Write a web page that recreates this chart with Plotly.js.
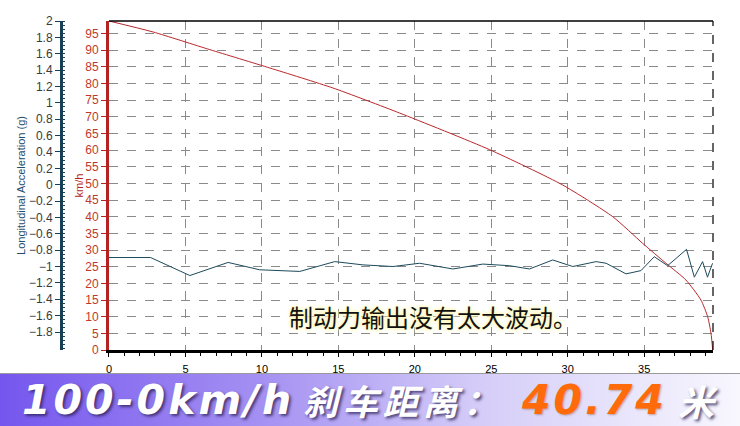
<!DOCTYPE html>
<html>
<head>
<meta charset="utf-8">
<script src="https://cdn.plot.ly/plotly-3.0.1.min.js"></script>
<style>
html,body{margin:0;padding:0;background:#fff;}
#wrap{position:relative;width:740px;height:426px;overflow:hidden;}
#banner{position:absolute;left:0;top:373px;width:740px;height:53px;
  background:linear-gradient(to right,#7556ee 0%,#a490f2 35%,#d5cdf8 65%,#f8f7fe 100%);
  border-top:1px solid #9a9a9a;}
#chart{position:absolute;left:0;top:0;width:740px;height:426px;z-index:1;}
</style>
</head>
<body>
<div id="wrap"><div id="banner"></div><div id="chart"></div></div>
<script>
// distance (m) vs speed (km/h)
const speedDist = [0, 2.89, 6.60, 10.52, 14.65, 19.0, 24.89, 29.67, 32.94, 34.9, 36.43, 37.73, 38.71, 39.15, 39.37, 39.48];
const speedVals = [98.7, 95.4, 90.1, 84.6, 78.6, 71.1, 60.1, 49.5, 40.0, 32.0, 26.0, 21.0, 15.0, 10.0, 5.0, 0];
// distance (m) vs longitudinal acceleration (g)
const accDist = [0, 2.72, 5.29, 7.79, 9.86, 12.48, 14.76, 16.61, 18.57, 20.31, 22.49, 24.45, 26.19, 27.5, 29.02, 30.33, 31.86, 32.51, 33.81, 34.79, 35.66, 36.53, 37.77, 38.28, 38.82, 39.14, 39.47];
const accVals = [-0.89, -0.89, -1.11, -0.95, -1.04, -1.06, -0.94, -0.98, -1.00, -0.96, -1.03, -0.97, -0.99, -1.03, -0.92, -1.00, -0.94, -0.96, -1.09, -1.05, -0.88, -0.99, -0.79, -1.13, -0.94, -1.13, -0.96];
// tick labels
const accTicks = [2, 1.8, 1.6, 1.4, 1.2, 1, 0.8, 0.6, 0.4, 0.2, 0, -0.2, -0.4, -0.6, -0.8, -1, -1.2, -1.4, -1.6, -1.8];
const speedTicks = [0, 5, 10, 15, 20, 25, 30, 35, 40, 45, 50, 55, 60, 65, 70, 75, 80, 85, 90, 95];
const distTicks = [0, 5, 10, 15, 20, 25, 30, 35];
const noteText = '制动力输出没有太大波动。';
const bannerParts = ['100-0km/h', '刹车距离：', '40.74', '米'];

const red = '#b42222';
const teal = '#173f55';

const traces = [
  {x: accDist, y: accVals, yaxis: 'y2', type: 'scatter', mode: 'lines',
   line: {color: '#1d4a5c', width: 1}, hoverinfo: 'skip'},
  {x: speedDist, y: speedVals, yaxis: 'y', type: 'scatter', mode: 'lines',
   line: {color: '#b8282c', width: 1, shape: 'spline', smoothing: 0.6}, hoverinfo: 'skip'}
];

const bannerY = -0.1505;
const shadow = '2px 2px 3px rgba(40,30,80,0.75)';
const latinFont = 'DejaVu Sans, sans-serif';
const cjkFont = 'Noto Sans CJK SC, sans-serif';
const spaced = (s, px) => '<span style="letter-spacing:' + px + 'px">' + s + '</span>';

const layout = {
  width: 740, height: 426,
  margin: {l: 20, r: 27, t: 21, b: 76},
  paper_bgcolor: 'rgba(0,0,0,0)',
  plot_bgcolor: '#ffffff',
  showlegend: false,
  font: {family: 'Liberation Sans, Arial, sans-serif', size: 11, color: '#000'},
  xaxis: {
    domain: [0.1284, 1], range: [0, 39.5],
    tickvals: distTicks, ticks: 'outside', ticklen: 4, tickcolor: '#000', tickwidth: 1,
    minor: {ticks: 'outside', ticklen: 3, dtick: 1, tick0: 0, tickcolor: '#000', showgrid: false},
    showline: true, linecolor: '#000', linewidth: 3,
    showgrid: true, gridcolor: '#8a8a8a', griddash: 'dash', gridwidth: 1,
    zeroline: false, tickfont: {size: 11, color: '#000'}, ticklabelstandoff: 3
  },
  yaxis: {
    range: [0, 98.7], tickvals: speedTicks,
    ticks: 'outside', ticklen: 5, tickcolor: red, tickwidth: 1,
    showline: true, linecolor: red, linewidth: 3,
    showgrid: true, gridcolor: '#8a8a8a', griddash: 'dash', gridwidth: 1,
    zeroline: false, tickfont: {size: 12, color: '#c0392b'},
    title: {text: 'km/h', font: {size: 11, color: red}, standoff: 0}
  },
  yaxis2: {
    overlaying: 'y', anchor: 'free', position: 0.0592, side: 'left',
    range: [-2.02, 2], tickvals: accTicks,
    ticks: 'outside', ticklen: 5, tickcolor: teal, tickwidth: 1,
    minor: {ticks: 'inside', ticklen: 2, dtick: 0.05, tick0: 0, tickcolor: teal, showgrid: false},
    showline: true, linecolor: teal, linewidth: 3,
    showgrid: false, zeroline: false,
    tickfont: {size: 12, color: '#3a3a3a'},
    title: {text: 'Longitudinal Acceleration (g)', font: {size: 11, color: '#1f4d6e'}, standoff: 0}
  },
  shapes: [
    {type: 'line', xref: 'x domain', yref: 'y domain', x0: 0, x1: 1, y0: 1, y1: 1,
     line: {color: '#000', width: 1.5}},
    {type: 'line', xref: 'x domain', yref: 'y domain', x0: 1, x1: 1, y0: 0, y1: 1,
     line: {color: '#000', width: 1.2, dash: 'dash'}}
  ],
  annotations: [
    {xref: 'paper', yref: 'paper', x: 0.596, y: 0.103, xanchor: 'center', yanchor: 'middle',
     text: noteText, showarrow: false,
     font: {family: cjkFont, size: 24, color: '#111',
            shadow: '0 0 3px #fff6b0, 0 0 4px #fff6b0, 0 0 5px #fffad0'}},
    {xref: 'paper', yref: 'paper', x: (20 - 20) / 693, y: bannerY, xanchor: 'left', yanchor: 'middle',
     text: spaced(bannerParts[0], 3), showarrow: false,
     font: {family: latinFont, size: 41, color: '#ffffff', weight: 'bold', style: 'italic', shadow: shadow}},
    {xref: 'paper', yref: 'paper', x: (301 - 20) / 693, y: bannerY, xanchor: 'left', yanchor: 'middle',
     text: spaced(bannerParts[1], 5), showarrow: false,
     font: {family: cjkFont, size: 35, color: '#ffffff', weight: 'bold', style: 'italic', shadow: shadow}},
    {xref: 'paper', yref: 'paper', x: (519 - 20) / 693, y: bannerY, xanchor: 'left', yanchor: 'middle',
     text: spaced(bannerParts[2], 3), showarrow: false,
     font: {family: latinFont, size: 41, color: '#ff6a0a', weight: 'bold', style: 'italic', shadow: '1px 1px 2px rgba(120,60,20,0.4)'}},
    {xref: 'paper', yref: 'paper', x: (676 - 20) / 693, y: bannerY, xanchor: 'left', yanchor: 'middle',
     text: bannerParts[3], showarrow: false,
     font: {family: cjkFont, size: 36, color: '#ffffff', weight: 'bold', style: 'italic', shadow: shadow}}
  ]
};

Plotly.newPlot('chart', traces, layout, {staticPlot: true, displayModeBar: false});
</script>
</body>
</html>
